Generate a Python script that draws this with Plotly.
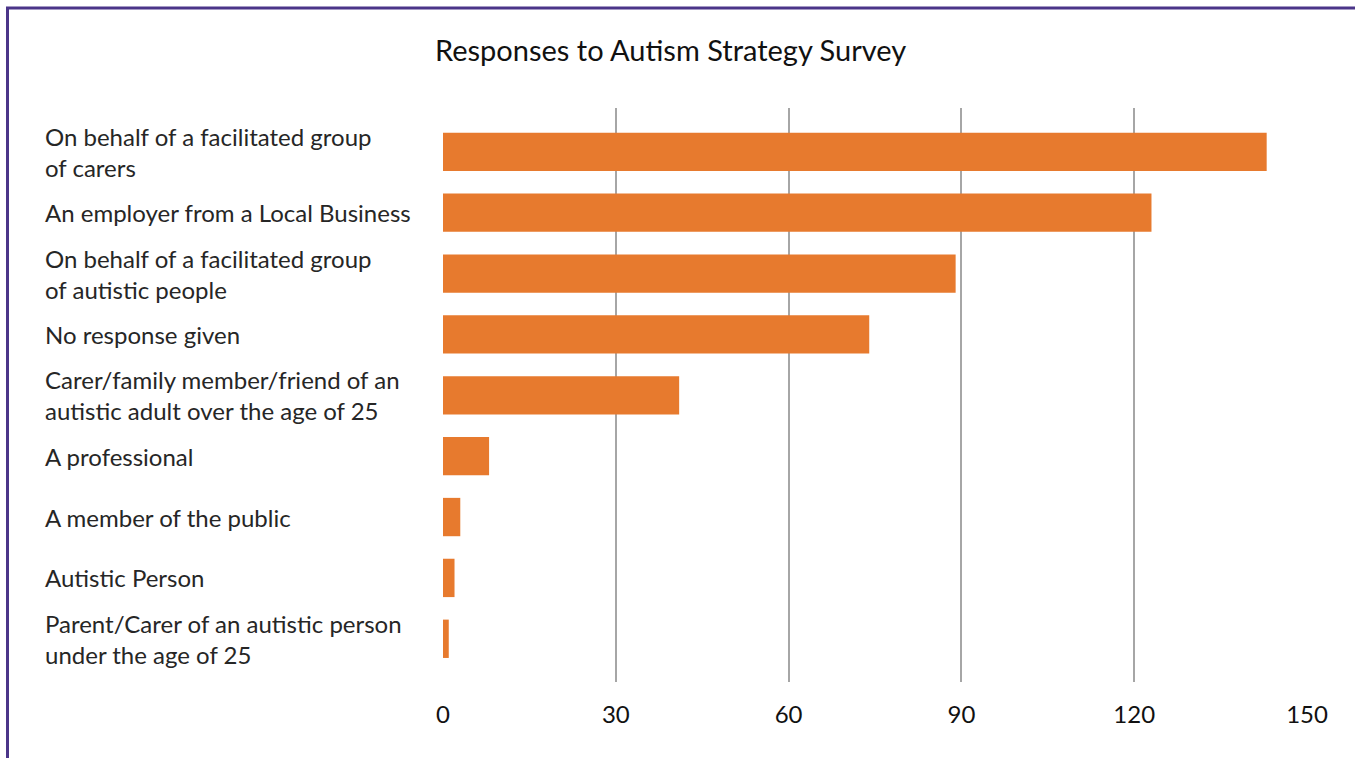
import plotly.graph_objects as go

categories = [
    "On behalf of a facilitated group<br>of carers",
    "An employer from a Local Business",
    "On behalf of a facilitated group<br>of autistic people",
    "No response given",
    "Carer/family member/friend of an<br>autistic adult over the age of 25",
    "A professional",
    "A member of the public",
    "Autistic Person",
    "Parent/Carer of an autistic person<br>under the age of 25",
]
values = [143, 123, 89, 74, 41, 8, 3, 2, 1]
x_ticks = [0, 30, 60, 90, 120, 150]
title = "Responses to Autism Strategy Survey"

W, H = 1355, 758
L, R, T, B = 443, 48, 108, 76
pw, ph = W - L - R, H - T - B

def px2paper_x(px):
    return (px - L) / pw

def py2paper_y(py):
    return (H - B - py) / ph

ypos = list(range(len(categories)))

fig = go.Figure()
fig.add_trace(go.Bar(
    x=values, y=ypos, orientation="h",
    marker=dict(color="#E77A2E", line=dict(width=0)),
    width=0.63, hoverinfo="x",
))

font_family = "Lato, 'Open Sans', sans-serif"

annotations = []
for i, c in enumerate(categories):
    annotations.append(dict(
        x=px2paper_x(43), xref="paper", y=i, yref="y",
        text=c, showarrow=False, xanchor="left", yanchor="middle",
        align="left", font=dict(family=font_family, size=24, color="#262626"),
    ))
annotations.append(dict(
    x=px2paper_x(670), xref="paper", y=py2paper_y(49), yref="paper",
    text=title, showarrow=False, xanchor="center", yanchor="middle",
    font=dict(family=font_family, size=29, color="#111111"),
))

shapes = [
    dict(type="line", xref="paper", yref="paper",
         x0=px2paper_x(7.5), x1=px2paper_x(7.5), y0=py2paper_y(8), y1=py2paper_y(760),
         line=dict(color="#4B3589", width=3)),
    dict(type="line", xref="paper", yref="paper",
         x0=px2paper_x(6), x1=px2paper_x(1360), y0=py2paper_y(8), y1=py2paper_y(8),
         line=dict(color="#4B3589", width=3)),
]

fig.update_layout(
    width=W, height=H,
    margin=dict(l=L, r=R, t=T, b=B, pad=0),
    paper_bgcolor="white", plot_bgcolor="white",
    showlegend=False,
    annotations=annotations, shapes=shapes,
    xaxis=dict(range=[0, 150], tickvals=x_ticks, showgrid=True,
               gridcolor="#A6A6A6", gridwidth=2, zeroline=False,
               showline=False, ticks="", ticklabelstandoff=16,
               tickfont=dict(family=font_family, size=24, color="#111111")),
    yaxis=dict(range=[8.71, -0.72], showticklabels=False, showgrid=False,
               zeroline=False, showline=False, ticks=""),
)

fig.write_html("out.html")
